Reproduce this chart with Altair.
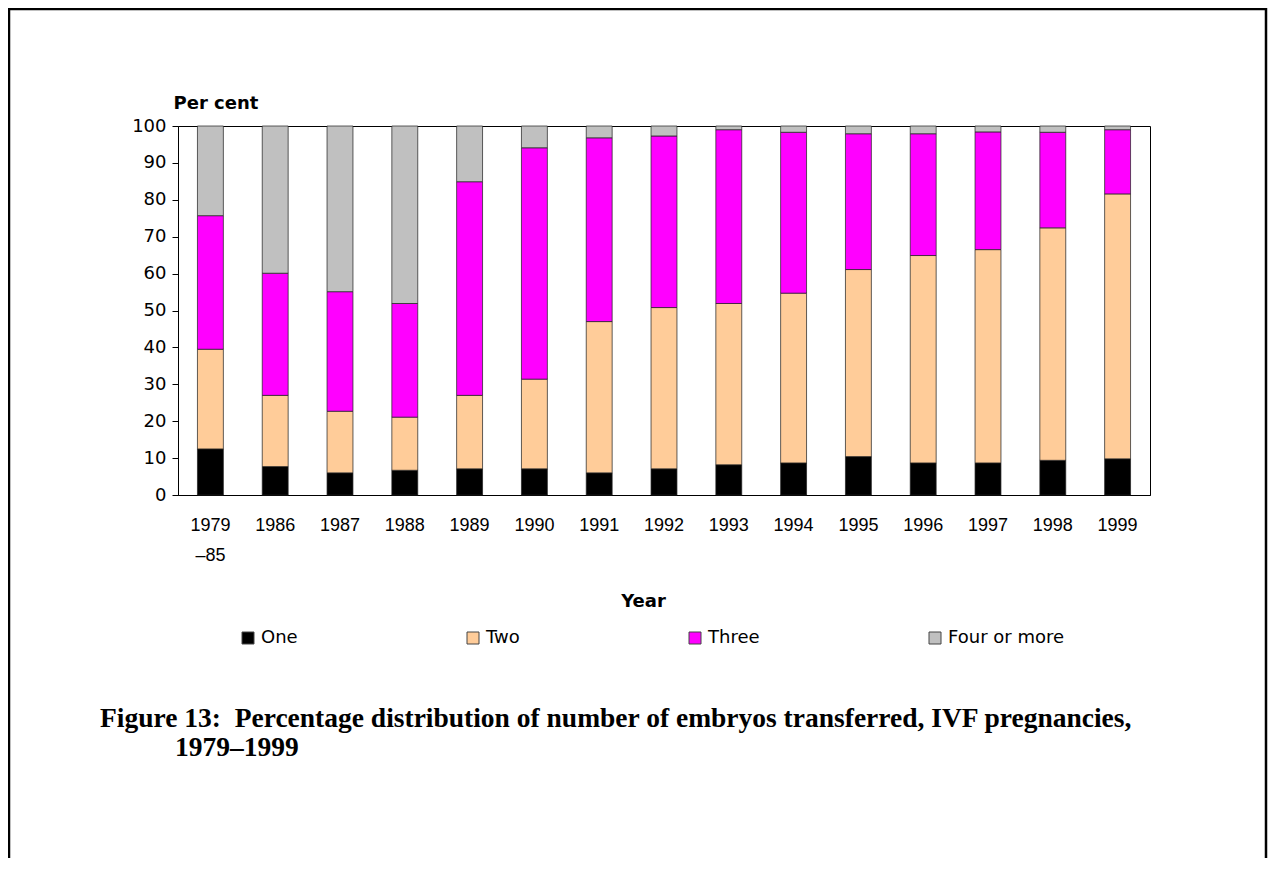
import altair as alt
import pandas as pd

# ---- data ----
years = ["1979\n–85", "1986", "1987", "1988", "1989", "1990", "1991", "1992",
         "1993", "1994", "1995", "1996", "1997", "1998", "1999"]
categories = ["One", "Two", "Three", "Four or more"]
colors = ["#000000", "#FFCC99", "#FF00FF", "#C0C0C0"]

one = [12.5, 7.7, 6.0, 6.7, 7.1, 7.1, 6.0, 7.1, 8.2, 8.7, 10.4, 8.7, 8.7, 9.4, 9.8]
two = [27.0, 19.3, 16.7, 14.4, 19.9, 24.3, 41.0, 43.7, 43.7, 46.0, 50.7, 56.2, 57.8, 63.0, 71.8]
three = [36.2, 33.1, 32.4, 30.8, 57.9, 62.7, 49.8, 46.5, 47.1, 43.6, 36.8, 33.0, 31.9, 25.9, 17.4]
four = [24.3, 39.9, 44.9, 48.1, 15.1, 5.9, 3.2, 2.7, 1.0, 1.7, 2.1, 2.1, 1.6, 1.7, 1.0]

y_ticks = [0, 10, 20, 30, 40, 50, 60, 70, 80, 90, 100]
title_line1 = "Figure 13:\u00a0 Percentage distribution of number of embryos transferred, IVF pregnancies,"
title_line2 = "1979–1999"

series = {"One": one, "Two": two, "Three": three, "Four or more": four}
rows = []
for ci, cat in enumerate(categories):
    for yi, yr in enumerate(years):
        rows.append({"Year": yr, "Embryos": cat, "order": ci, "Percent": series[cat][yi]})
df = pd.DataFrame(rows)

W, H = 972, 369
PAD_L, PAD_T = 170, 118
TOTAL_W, TOTAL_H = 1260, 850

bars = alt.Chart(df).mark_bar(stroke="#222222", strokeWidth=0.9, strokeOpacity=0.8).encode(
    x=alt.X("Year:N", sort=years,
            scale=alt.Scale(paddingInner=0.6, paddingOuter=0.3),
            axis=alt.Axis(title="Year", labelAngle=0, ticks=False,
                          labelExpr="split(datum.label, '\\n')",
                          labelFont="Liberation Sans", labelFontSize=18,
                          labelColor="#000000", labelLineHeight=30, labelPadding=21,
                          domainColor="#000000",
                          titleFont="DejaVu Sans", titleFontSize=18, titleFontWeight="bold",
                          titleColor="#000000", titleX=465, titleY=111,
                          titleAnchor="start", titleAlign="center",
                          titleBaseline="alphabetic")),
    y=alt.Y("Percent:Q", stack="zero",
            scale=alt.Scale(domain=[0, 100], nice=False),
            axis=alt.Axis(title="Per cent", values=y_ticks, grid=False,
                          tickSize=6, tickColor="#000000", domainColor="#000000",
                          labelFont="DejaVu Sans", labelFontSize=18, labelColor="#000000",
                          labelPadding=6,
                          titleFont="DejaVu Sans", titleFontSize=18, titleFontWeight="bold",
                          titleColor="#000000", titleAngle=0, titleAlign="left",
                          titleBaseline="alphabetic", titleX=-5, titleY=-18)),
    color=alt.Color("Embryos:N", sort=categories,
                    scale=alt.Scale(domain=categories, range=colors),
                    legend=alt.Legend(title=None, orient="none", direction="horizontal",
                                      columns=4, legendX=61, legendY=503,
                                      symbolType="square", symbolSize=144,
                                      symbolStrokeColor="#444444", symbolStrokeWidth=1,
                                      symbolOpacity=1,
                                      labelFont="DejaVu Sans", labelFontSize=18,
                                      labelColor="#000000", labelOffset=4,
                                      columnPadding=166)),
    order=alt.Order("order:Q", sort="ascending"),
)

frame = alt.Chart(pd.DataFrame({"k": [0]})).mark_rect(
    filled=False, stroke="#000000", strokeWidth=2.5
).encode(
    x=alt.value(9 - 8 - PAD_L), x2=alt.value(TOTAL_W - 2 - PAD_L),
    y=alt.value(9 - 8 - PAD_T), y2=alt.value(TOTAL_H + 40 - PAD_T),
)

t1 = alt.Chart(pd.DataFrame({"t": [title_line1]})).mark_text(
    align="left", baseline="alphabetic", font="Liberation Serif",
    fontWeight="bold", fontSize=27.5, color="#000000"
).encode(text="t:N", x=alt.value(100 - 8 - PAD_L), y=alt.value(727 - 8 - PAD_T))

t2 = alt.Chart(pd.DataFrame({"t": [title_line2]})).mark_text(
    align="left", baseline="alphabetic", font="Liberation Serif",
    fontWeight="bold", fontSize=27.5, color="#000000"
).encode(text="t:N", x=alt.value(175 - 8 - PAD_L), y=alt.value(756 - 8 - PAD_T))

chart = alt.layer(bars, frame, t1, t2).properties(
    width=W, height=H,
    autosize=alt.AutoSizeParams(type="none"),
    padding={"left": PAD_L, "top": PAD_T, "right": TOTAL_W - PAD_L - W,
             "bottom": TOTAL_H - PAD_T - H},
    background="#FFFFFF",
).configure_view(stroke="#000000", strokeWidth=1)

chart.save("out.html", embed_options={"renderer": "svg", "actions": False})
